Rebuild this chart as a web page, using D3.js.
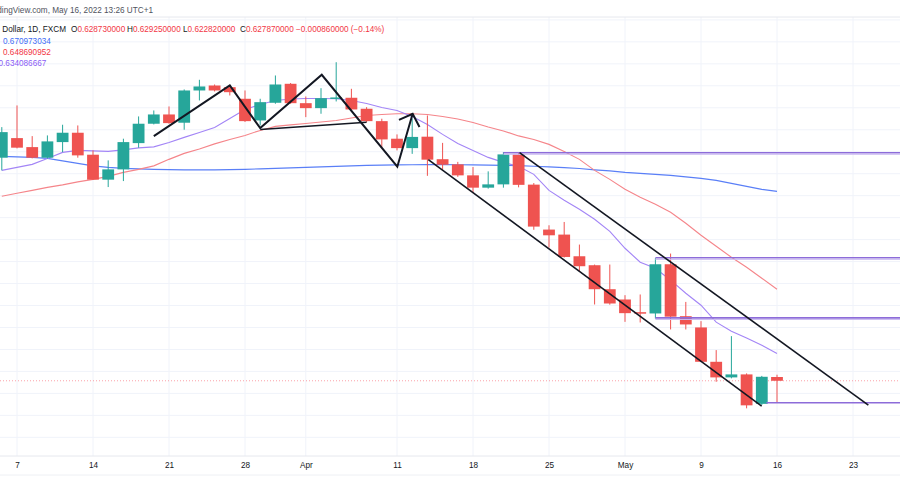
<!DOCTYPE html>
<html>
<head>
<meta charset="utf-8">
<script src="https://cdn.jsdelivr.net/npm/d3@7"></script>
<style>
  body { margin: 0; background: #fff; }
  svg { display: block; font-family: "Liberation Sans", Arial, sans-serif; }
</style>
</head>
<body>
<svg id="chart" width="900" height="500"></svg>
<script>
// NZD/USD daily candles, Mar 4 .. May 16 2022
var opens = [0.67864, 0.68310, 0.68105, 0.67864, 0.68219, 0.68432, 0.67932, 0.67364, 0.67598, 0.68196, 0.68637, 0.68848, 0.68660, 0.69394, 0.69507, 0.69469, 0.69205, 0.68712, 0.69114, 0.69546, 0.69105, 0.68992, 0.69201, 0.69228, 0.68978, 0.68696, 0.68296, 0.68082, 0.68342, 0.67830, 0.67712, 0.67462, 0.67182, 0.67257, 0.67939, 0.67251, 0.66228, 0.66114, 0.65621, 0.65417, 0.64871, 0.64637, 0.64348, 0.64319, 0.65439, 0.64257, 0.64001, 0.63219, 0.62864, 0.62932, 0.62262, 0.62873];
var highs = [0.68560, 0.69053, 0.68355, 0.68371, 0.68614, 0.68598, 0.68030, 0.67803, 0.68296, 0.68803, 0.68939, 0.69030, 0.69417, 0.69637, 0.69530, 0.69507, 0.69394, 0.69205, 0.69735, 0.69564, 0.69257, 0.69446, 0.70037, 0.69432, 0.69014, 0.68751, 0.68394, 0.68757, 0.68826, 0.68201, 0.67769, 0.67651, 0.67553, 0.67992, 0.67992, 0.67287, 0.66326, 0.66401, 0.65887, 0.65432, 0.65432, 0.64735, 0.64751, 0.65576, 0.65682, 0.64582, 0.64144, 0.63485, 0.63803, 0.62955, 0.62898, 0.62925];
var lows = [0.67576, 0.68076, 0.67848, 0.67842, 0.67992, 0.67864, 0.67360, 0.67196, 0.67332, 0.68092, 0.68621, 0.68637, 0.68501, 0.69167, 0.69371, 0.69280, 0.68678, 0.68598, 0.69092, 0.69092, 0.68787, 0.68864, 0.69144, 0.68951, 0.68673, 0.68105, 0.68030, 0.67951, 0.67451, 0.67598, 0.67428, 0.67060, 0.67160, 0.67182, 0.67189, 0.66223, 0.65819, 0.65592, 0.65264, 0.64523, 0.64519, 0.64128, 0.64114, 0.64205, 0.63955, 0.63955, 0.63212, 0.62764, 0.62842, 0.62160, 0.62235, 0.62282];
var closes = [0.68446, 0.68092, 0.67864, 0.68235, 0.68432, 0.67917, 0.67364, 0.67598, 0.68219, 0.68637, 0.68848, 0.68651, 0.69394, 0.69485, 0.69394, 0.69355, 0.68696, 0.69128, 0.69530, 0.69105, 0.68992, 0.69219, 0.69235, 0.68962, 0.68696, 0.68280, 0.68082, 0.68337, 0.67819, 0.67705, 0.67462, 0.67182, 0.67257, 0.67939, 0.67246, 0.66296, 0.66098, 0.65605, 0.65394, 0.64871, 0.64546, 0.64326, 0.64314, 0.65439, 0.64246, 0.64069, 0.63219, 0.62864, 0.62932, 0.62228, 0.62878, 0.62787];

// moving averages
var maBlue = [0.67894, 0.67883, 0.67871, 0.67848, 0.67791, 0.67735, 0.67678, 0.67644, 0.67621, 0.67610, 0.67598, 0.67592, 0.67587, 0.67587, 0.67587, 0.67592, 0.67598, 0.67610, 0.67621, 0.67632, 0.67644, 0.67655, 0.67667, 0.67678, 0.67689, 0.67696, 0.67701, 0.67705, 0.67707, 0.67707, 0.67705, 0.67701, 0.67696, 0.67689, 0.67683, 0.67671, 0.67655, 0.67637, 0.67617, 0.67587, 0.67564, 0.67530, 0.67507, 0.67485, 0.67462, 0.67428, 0.67394, 0.67348, 0.67280, 0.67212, 0.67144, 0.67097];
var maRed = [0.66985, 0.67053, 0.67121, 0.67189, 0.67246, 0.67314, 0.67371, 0.67439, 0.67530, 0.67598, 0.67678, 0.67826, 0.67962, 0.68064, 0.68178, 0.68280, 0.68371, 0.68485, 0.68576, 0.68610, 0.68644, 0.68678, 0.68712, 0.68769, 0.68826, 0.68848, 0.68864, 0.68864, 0.68848, 0.68803, 0.68746, 0.68667, 0.68564, 0.68473, 0.68360, 0.68280, 0.68167, 0.68007, 0.67826, 0.67576, 0.67371, 0.67144, 0.66962, 0.66803, 0.66621, 0.66371, 0.66098, 0.65848, 0.65598, 0.65371, 0.65121, 0.64869];
var maPurple = [0.67576, 0.67644, 0.67712, 0.67848, 0.67985, 0.68030, 0.68019, 0.68007, 0.68041, 0.68087, 0.68110, 0.68212, 0.68326, 0.68439, 0.68553, 0.68758, 0.68962, 0.69076, 0.69167, 0.69201, 0.69212, 0.69212, 0.69205, 0.69167, 0.69098, 0.69008, 0.68939, 0.68803, 0.68621, 0.68394, 0.68189, 0.68030, 0.67871, 0.67758, 0.67667, 0.67485, 0.67121, 0.66894, 0.66689, 0.66462, 0.66189, 0.65803, 0.65485, 0.65348, 0.65076, 0.64780, 0.64507, 0.64121, 0.63916, 0.63758, 0.63598, 0.63409];
var maLegend = ['0.670973034', '0.648690952', '0.634086667'];

var tickDates = ['2022-03-07', '2022-03-14', '2022-03-21', '2022-03-28', '2022-04-01', '2022-04-11', '2022-04-18', '2022-04-25', '2022-05-02', '2022-05-09', '2022-05-16', '2022-05-23'];
var tickLabels = ['7', '14', '21', '28', 'Apr', '11', '18', '25', 'May', '9', '16', '23'];

// drawings: [bar offset from Mar 7, price]
var zigzag = [[9, 0.68355], [14, 0.69508], [16, 0.68537], [20.05, 0.69751], [25.02, 0.67660], [26.03, 0.68864]];
var arrowWings = [[25.13, 0.68723], [26.48, 0.68564]];
var neckline = [[16, 0.68508], [23, 0.68673]];
var channelLow = [[27.06, 0.67819], [48.99, 0.62212]];
var channelHigh = [[33.06, 0.67978], [56.01, 0.62235]];
var levelStart = [32, 42, 42, 49.3];
var levelPrice = [0.67978, 0.65587, 0.64219, 0.62287];

///////////////////////////////////////////////////////////////
// scales
///////////////////////////////////////////////////////////////
var svg = d3.select('#chart');
var fmt = d3.timeFormat('%Y-%m-%d');

// trading days, Mar 4 is offset -1
var days = d3.timeDay.range(new Date(2022, 2, 4), new Date(2022, 4, 31))
  .filter(d => d.getDay() !== 0 && d.getDay() !== 6);
var offsetOf = {};
days.forEach((d, i) => offsetOf[fmt(d)] = i - 1);

var candles = opens.map((o, i) => ({
  i: i - 1, o: o, h: highs[i], l: lows[i], c: closes[i]
}));

var x = d3.scaleLinear().domain([0, 55]).range([17, 853]);
var y = d3.scaleLinear().domain([0.61, 0.71]).range([459.3, 19.9]);
var bodyW = 11.8;

var plotTop = 17, plotBottom = 456;

svg.append('clipPath').attr('id', 'plot')
  .append('rect').attr('x', 0).attr('y', plotTop).attr('width', 900).attr('height', plotBottom - plotTop);

// grid
var grid = svg.append('g').attr('clip-path', 'url(#plot)');
grid.selectAll('.vg')
  .data(tickDates)
  .enter().append('line')
  .attr('x1', d => x(offsetOf[d])).attr('x2', d => x(offsetOf[d]))
  .attr('y1', plotTop).attr('y2', plotBottom)
  .attr('stroke', '#f0f3fa');
grid.selectAll('.hg')
  .data(d3.range(0.61, 0.7101, 0.005))
  .enter().append('line')
  .attr('x1', 0).attr('x2', 900)
  .attr('y1', d => y(d)).attr('y2', d => y(d))
  .attr('stroke', '#f0f3fa');

var plot = svg.append('g').attr('clip-path', 'url(#plot)');

// moving averages
var maLine = d3.line().x((d, i) => x(i - 1)).y(d => y(d));
[[maBlue, '#5a7ff7'], [maRed, '#f5858a'], [maPurple, '#a385f6']].forEach(function (m) {
  plot.append('path')
    .attr('d', maLine(m[0]))
    .attr('fill', 'none')
    .attr('stroke', m[1])
    .attr('stroke-width', 1.1);
});

// current price line
plot.append('line')
  .attr('x1', 0).attr('x2', 900)
  .attr('y1', y(closes[closes.length - 1])).attr('y2', y(closes[closes.length - 1]))
  .attr('stroke', '#f7525f')
  .attr('stroke-opacity', 0.55)
  .attr('stroke-dasharray', '1 2');

// candles
var color = d => d.c >= d.o ? '#26a69a' : '#ef5350';
plot.selectAll('.wick')
  .data(candles)
  .enter().append('line')
  .attr('class', 'wick')
  .attr('x1', d => x(d.i)).attr('x2', d => x(d.i))
  .attr('y1', d => y(d.h)).attr('y2', d => y(d.l))
  .attr('stroke', color)
  .attr('stroke-width', 1);
plot.selectAll('.body')
  .data(candles)
  .enter().append('rect')
  .attr('class', 'body')
  .attr('x', d => x(d.i) - bodyW / 2)
  .attr('width', bodyW)
  .attr('y', d => y(Math.max(d.o, d.c)))
  .attr('height', d => Math.max(1, Math.abs(y(d.o) - y(d.c))))
  .attr('fill', color);

// horizontal levels
levelPrice.forEach(function (p, k) {
  plot.append('line')
    .attr('x1', x(levelStart[k])).attr('x2', 900)
    .attr('y1', y(p)).attr('y2', y(p))
    .attr('stroke', '#8d6cd9')
    .attr('stroke-width', k === 3 ? 1.3 : 1.6);
  if (k < 3) {
    plot.append('line')
      .attr('x1', x(levelStart[k])).attr('x2', 900)
      .attr('y1', y(p) + 1.6).attr('y2', y(p) + 1.6)
      .attr('stroke', '#cbbcf2')
      .attr('stroke-width', 1);
  }
});

// trend drawings
var pt = d3.line().x(d => x(d[0])).y(d => y(d[1]));
function drawPath(pts, w) {
  plot.append('path')
    .attr('d', pt(pts))
    .attr('fill', 'none')
    .attr('stroke', '#131722')
    .attr('stroke-width', w)
    .attr('stroke-linejoin', 'miter');
}
drawPath(zigzag, 2);
drawPath([arrowWings[0], zigzag[5], arrowWings[1]], 2);
drawPath(neckline, 1.5);
drawPath(channelLow, 1.6);
drawPath(channelHigh, 1.6);

///////////////////////////////////////////////////////////////
// header and legend
///////////////////////////////////////////////////////////////
svg.append('line')
  .attr('x1', 0).attr('x2', 900).attr('y1', 17).attr('y2', 17)
  .attr('stroke', '#e6e8ee');

svg.append('text')
  .attr('x', 153).attr('y', 13)
  .attr('text-anchor', 'end')
  .attr('font-size', 8.2)
  .attr('fill', '#50535e')
  .text('TradingView.com, May 16, 2022 13:26 UTC+1');

svg.append('text')
  .attr('x', 66).attr('y', 32)
  .attr('text-anchor', 'end')
  .attr('font-size', 8.2)
  .attr('fill', '#131722')
  .text('New Zealand Dollar / U.S. Dollar, 1D, FXCM');

var last = candles[candles.length - 1];
var ohlc = [
  ['O', 71, d3.format('.9f')(last.o)],
  ['H', 127, d3.format('.9f')(last.h)],
  ['L', 183, d3.format('.9f')(last.l)],
  ['C', 240, d3.format('.9f')(last.c)]
];
ohlc.forEach(function (d) {
  var t = svg.append('text')
    .attr('x', d[1]).attr('y', 32)
    .attr('font-size', 8.2);
  t.append('tspan').attr('fill', '#131722').text(d[0]);
  t.append('tspan').attr('fill', '#f23645').text(d[2]);
});
svg.append('text')
  .attr('x', 296).attr('y', 32)
  .attr('font-size', 8.2)
  .attr('fill', '#f23645')
  .text('\u2212' + d3.format('.9f')(last.o - last.c) + ' (\u2212' + d3.format('.2f')((last.o - last.c) / last.o * 100) + '%)');

[['#3f6df5', 3, 43.5], ['#f23645', 3, 55], ['#8a5cf5', -1.5, 66.3]].forEach(function (m, k) {
  svg.append('text')
    .attr('x', m[1]).attr('y', m[2])
    .attr('font-size', 8.2)
    .attr('fill', m[0])
    .text(maLegend[k]);
});

///////////////////////////////////////////////////////////////
// time axis
///////////////////////////////////////////////////////////////
svg.append('line')
  .attr('x1', 0).attr('x2', 900).attr('y1', plotBottom).attr('y2', plotBottom)
  .attr('stroke', '#e6e8ee');

var xAxis = d3.axisBottom(x)
  .tickValues(tickDates.map(d => offsetOf[d]))
  .tickFormat((d, i) => tickLabels[i])
  .tickSize(0)
  .tickPadding(6);

var ax = svg.append('g')
  .attr('transform', 'translate(0,' + plotBottom + ')')
  .call(xAxis);
ax.select('.domain').remove();
ax.selectAll('text')
  .attr('font-size', 8.2)
  .attr('font-family', '"Liberation Sans", Arial, sans-serif')
  .attr('fill', '#131722');

svg.append('line')
  .attr('x1', 0).attr('x2', 900).attr('y1', 475).attr('y2', 475)
  .attr('stroke', '#eef0f4');
</script>
</body>
</html>
